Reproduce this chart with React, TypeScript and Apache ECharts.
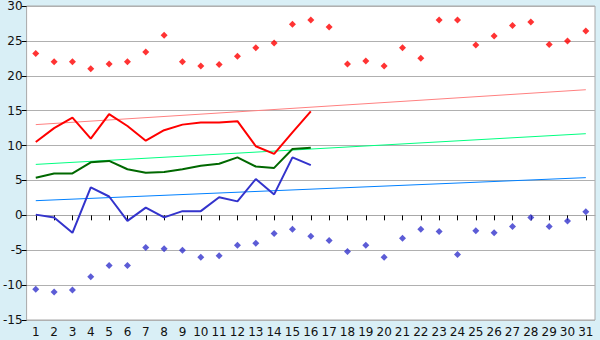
import React, { useEffect, useRef } from "react";
import * as echarts from "echarts";

const days = Array.from({ length: 31 }, (_, i) => String(i + 1));

const maxPoints = [23.2, 22.0, 22.0, 21.0, 21.7, 22.0, 23.4, 25.8, 22.0, 21.4, 21.6, 22.8, 24.0, 24.7, 27.4, 28.0, 27.0, 21.7, 22.1, 21.4, 24.0, 22.5, 28.0, 28.0, 24.4, 25.7, 27.2, 27.7, 24.5, 25.0, 26.4];
const minPoints = [-10.6, -11.0, -10.7, -8.8, -7.2, -7.2, -4.6, -4.8, -5.0, -6.0, -5.8, -4.3, -4.0, -2.6, -2.0, -3.0, -3.6, -5.2, -4.3, -6.0, -3.3, -2.0, -2.3, -5.6, -2.2, -2.5, -1.6, -0.3, -1.6, -0.8, 0.5];

const maxLine = [10.5, 12.5, 14.0, 11.0, 14.5, 12.8, 10.7, 12.2, 13.0, 13.3, 13.3, 13.5, 9.9, 8.8, 11.9, 14.9];
const meanLine = [5.4, 6.0, 6.0, 7.6, 7.8, 6.6, 6.1, 6.2, 6.6, 7.1, 7.4, 8.3, 7.0, 6.8, 9.5, 9.7];
const minLine = [0.1, -0.3, -2.5, 4.0, 2.7, -0.8, 1.1, -0.3, 0.6, 0.6, 2.6, 2.0, 5.2, 3.0, 8.3, 7.2];

const maxTrend = [13.0, 18.0];
const meanTrend = [7.3, 11.7];
const minTrend = [2.1, 5.4];

const yTicks = { min: -15, max: 30, interval: 5 };

const trendData = (t: number[]) => [
  [0, t[0]],
  [days.length - 1, t[1]],
];

export default function App() {
  const ref = useRef<HTMLDivElement>(null);
  useEffect(() => {
    const chart = echarts.init(ref.current!, null, { renderer: "svg" });
    const font = "DejaVu Sans";
    chart.setOption({
      animation: false,
      backgroundColor: "#d9eff6",
      grid: {
        left: 26,
        right: 5,
        top: 5,
        bottom: 20,
        show: true,
        backgroundColor: "#ffffff",
        borderColor: "#a8a8a8",
        borderWidth: 1,
      },
      xAxis: {
        type: "category",
        data: days,
        boundaryGap: true,
        axisLine: { show: true, lineStyle: { color: "#a8a8a8" } },
        axisTick: { show: true, alignWithLabel: true, length: 5, lineStyle: { color: "#000" } },
        axisLabel: { color: "#111", fontFamily: font, fontSize: 12, margin: 6, interval: 0 },
        splitLine: { show: false },
      },
      yAxis: {
        type: "value",
        min: yTicks.min,
        max: yTicks.max,
        interval: yTicks.interval,
        axisLine: { show: false },
        axisTick: { show: true, length: 5, lineStyle: { color: "#000" } },
        axisLabel: { color: "#111", fontFamily: font, fontSize: 12, margin: 4 },
        splitLine: { show: true, lineStyle: { color: "#b0b0b0", width: 1 } },
      },
      series: [
        {
          type: "line",
          data: trendData(maxTrend),
          symbol: "none",
          lineStyle: { color: "#ff8080", width: 1 },
        },
        {
          type: "line",
          data: trendData(meanTrend),
          symbol: "none",
          lineStyle: { color: "#00ff80", width: 1 },
        },
        {
          type: "line",
          data: trendData(minTrend),
          symbol: "none",
          lineStyle: { color: "#0080ff", width: 1 },
        },
        {
          type: "line",
          data: maxLine,
          symbol: "none",
          lineStyle: { color: "#ff0000", width: 2 },
        },
        {
          type: "line",
          data: meanLine,
          symbol: "none",
          lineStyle: { color: "#006800", width: 2 },
        },
        {
          type: "line",
          data: minLine,
          symbol: "none",
          lineStyle: { color: "#3333cc", width: 2 },
        },
        {
          type: "scatter",
          data: maxPoints,
          symbol: "diamond",
          symbolSize: 7,
          itemStyle: { color: "#ff0000" },
        },
        {
          type: "scatter",
          data: minPoints,
          symbol: "diamond",
          symbolSize: 7,
          itemStyle: { color: "#3333cc" },
        },
      ],
    });
    return () => chart.dispose();
  }, []);
  return <div ref={ref} style={{ width: 600, height: 340, position: "fixed", left: 0, top: 0 }} />;
}
